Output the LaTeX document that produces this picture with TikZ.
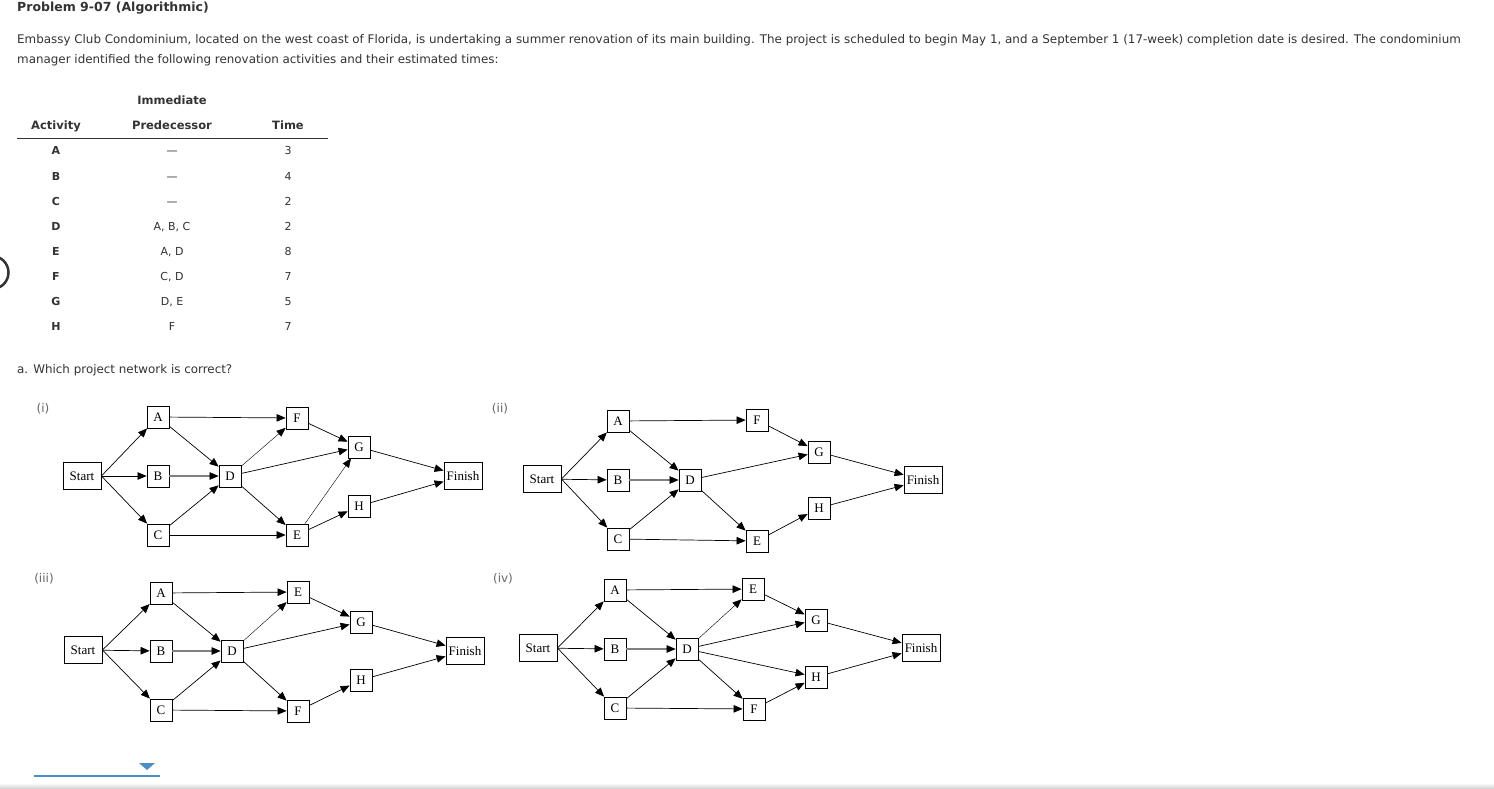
\documentclass[tikz,border=0pt]{standalone}
\usepackage{fontspec}
\setmainfont{DejaVu Sans}
\newfontfamily\netfont{Liberation Serif}
\usetikzlibrary{arrows.meta}
\definecolor{txt}{HTML}{333333}
\definecolor{lbl}{HTML}{666666}
\definecolor{blu}{HTML}{4A90C4}
\tikzset{
 nd/.style={draw,line width=0.8pt,fill=white,minimum width=22pt,minimum height=22pt,inner sep=1pt,font=\netfont\fontsize{13}{13}\selectfont},
 ndw/.style={nd,minimum width=38pt,minimum height=27pt},
 ar/.style={-{Triangle[length=9pt,width=7.5pt]},line width=0.7pt},
 arthin/.style={ar,line width=0.4pt},
 argray/.style={draw=gray,line width=1.5pt,-{Triangle[length=9pt,width=7.5pt,color=black,line width=0.5pt]}},
 body/.style={anchor=base west,inner sep=0pt,text=txt,font=\fontsize{11.9}{14}\selectfont},
 hd/.style={anchor=base,inner sep=0pt,text=txt,font=\bfseries\fontsize{11.5}{14}\selectfont},
 cell/.style={anchor=base,inner sep=0pt,text=txt,font=\fontsize{11}{14}\selectfont},
 rlab/.style={anchor=base,inner sep=0pt,text=lbl,font=\fontsize{12}{14}\selectfont},
}
\begin{document}
\begin{tikzpicture}[x=1pt,y=-1pt]
\useasboundingbox (0,0) rectangle (1494,789);
\fill[white] (0,0) rectangle (1494,789);
% header text
\node[body,font=\bfseries\fontsize{12.5}{14}\selectfont] (title) at (17,12) {Problem 9-07 (Algorithmic)};
\node[body] (p1) at (17,44) {Embassy Club Condominium, located on the west coast of Florida, is undertaking a summer renovation of its main building. The project is scheduled to begin May 1, and a September 1 (17-week) completion date is desired. The condominium};
\node[body] (p2) at (17,64) {manager identified the following renovation activities and their estimated times:};
% table
\node[hd] (h1) at (172,105) {Immediate};
\node[hd] (h2) at (172,130) {Predecessor};
\node[hd] (h3) at (56,130) {Activity};
\node[hd] (h4) at (288,130) {Time};
\draw[txt,line width=0.8pt] (17,138.5) -- (328,138.5);
\foreach \a/\p/\t [count=\i from 0] in {A/---/3,B/---/4,C/---/2,D/{A, B, C}/2,E/{A, D}/8,F/{C, D}/7,G/{D, E}/5,H/F/7}{
 \node[cell,font=\bfseries\fontsize{11}{14}\selectfont] (ra\i) at (56,155+25*\i) {\a};
 \node[cell] (rp\i) at (172,155+25*\i) {\p};
 \node[cell] (rt\i) at (288,155+25*\i) {\t};
}
\draw[txt,line width=2.5pt] (-8,289) arc (90:-90:16.5);
\node[body] (qa) at (17,373) {a. Which project network is correct?};
% labels
\node[rlab] (l1) at (43,412) {(i)};
\node[rlab] (l2) at (500,412) {(ii)};
\node[rlab] (l3) at (44,582) {(iii)};
\node[rlab] (l4) at (503,582) {(iv)};
% ---- network (i)
\node[ndw] (aS) at (82,476) {Start};
\node[nd] (aA) at (158,417) {A};
\node[nd] (aB) at (158,476) {B};
\node[nd] (aC) at (158,535) {C};
\node[nd] (aD) at (230,476) {D};
\node[nd] (aF) at (297,418) {F};
\node[nd] (aE) at (297,535) {E};
\node[nd] (aG) at (359,447) {G};
\node[nd] (aH) at (359,506) {H};
\node[ndw] (aFin) at (463,476) {Finish};
\draw[ar] (aS.east) -- (aA); \draw[ar] (aS) -- (aB); \draw[ar] (aS.east) -- (aC);
\draw[ar] (aA) -- (aF); \draw[ar] (aA) -- (aD); \draw[argray] (aB) -- (aD); \draw[ar] (aC) -- (aD);
\draw[ar] (aC) -- (aE); \draw[arthin] (aD) -- (aF); \draw[ar] (aD) -- (aG); \draw[ar] (aD) -- (aE);
\draw[ar] (aF) -- (aG); \draw[arthin] (aE) -- (aG); \draw[ar] (aE) -- (aH);
\draw[ar] (aG) -- (aFin); \draw[ar] (aH) -- (aFin);
% ---- network (ii)
\node[ndw] (bS) at (542,479) {Start};
\node[nd] (bA) at (618,421) {A};
\node[nd] (bB) at (618,480) {B};
\node[nd] (bC) at (618,539) {C};
\node[nd] (bD) at (690,480) {D};
\node[nd] (bF) at (757,420) {F};
\node[nd] (bE) at (757,541) {E};
\node[nd] (bG) at (819,452) {G};
\node[nd] (bH) at (819,508) {H};
\node[ndw] (bFin) at (923,480) {Finish};
\draw[ar] (bS.east) -- (bA); \draw[ar] (bS) -- (bB); \draw[ar] (bS.east) -- (bC);
\draw[ar] (bA) -- (bF); \draw[ar] (bA) -- (bD); \draw[argray] (bB) -- (bD); \draw[ar] (bC) -- (bD);
\draw[ar] (bC) -- (bE); \draw[ar] (bD) -- (bG); \draw[ar] (bD) -- (bE);
\draw[ar] (bF) -- (bG); \draw[ar] (bE) -- (bH);
\draw[ar] (bG) -- (bFin); \draw[ar] (bH) -- (bFin);
% ---- network (iii)
\node[ndw] (cS) at (83,650) {Start};
\node[nd] (cA) at (161,593) {A};
\node[nd] (cB) at (161,651) {B};
\node[nd] (cC) at (161,710) {C};
\node[nd] (cD) at (232,651) {D};
\node[nd] (cE) at (298,592) {E};
\node[nd] (cF) at (298,711) {F};
\node[nd] (cG) at (361,622) {G};
\node[nd] (cH) at (361,680) {H};
\node[ndw] (cFin) at (465,651) {Finish};
\draw[ar] (cS.east) -- (cA); \draw[ar] (cS) -- (cB); \draw[ar] (cS.east) -- (cC);
\draw[ar] (cA) -- (cE); \draw[ar] (cA) -- (cD); \draw[argray] (cB) -- (cD); \draw[ar] (cC) -- (cD);
\draw[ar] (cC) -- (cF); \draw[arthin] (cD) -- (cE); \draw[ar] (cD) -- (cG); \draw[ar] (cD) -- (cF);
\draw[ar] (cE) -- (cG); \draw[ar] (cF) -- (cH);
\draw[ar] (cG) -- (cFin); \draw[ar] (cH) -- (cFin);
% ---- network (iv)
\node[ndw] (dS) at (538,648) {Start};
\node[nd] (dA) at (615,590) {A};
\node[nd] (dB) at (615,649) {B};
\node[nd] (dC) at (615,708) {C};
\node[nd] (dD) at (687,649) {D};
\node[nd] (dE) at (753,589) {E};
\node[nd] (dF) at (754,709) {F};
\node[nd] (dG) at (816,620) {G};
\node[nd] (dH) at (816,677) {H};
\node[ndw] (dFin) at (921,648) {Finish};
\draw[ar] (dS.east) -- (dA); \draw[ar] (dS) -- (dB); \draw[ar] (dS.east) -- (dC);
\draw[ar] (dA) -- (dE); \draw[ar] (dA) -- (dD); \draw[argray] (dB) -- (dD); \draw[ar] (dC) -- (dD);
\draw[ar] (dC) -- (dF); \draw[arthin] (dD) -- (dE); \draw[ar] (dD) -- (dG); \draw[ar] (dD) -- (dH); \draw[ar] (dD) -- (dF);
\draw[ar] (dE) -- (dG); \draw[ar] (dF) -- (dH);
\draw[ar] (dG) -- (dFin); \draw[ar] (dH) -- (dFin);
% dropdown
\draw[blu,line width=1.6pt] (34,776) -- (160,776);
\fill[blu] (139,763) -- (155,763) -- (147,770) -- cycle;
\shade[top color=white,bottom color=black!20] (0,783) rectangle (1494,789);
\end{tikzpicture}
\end{document}
